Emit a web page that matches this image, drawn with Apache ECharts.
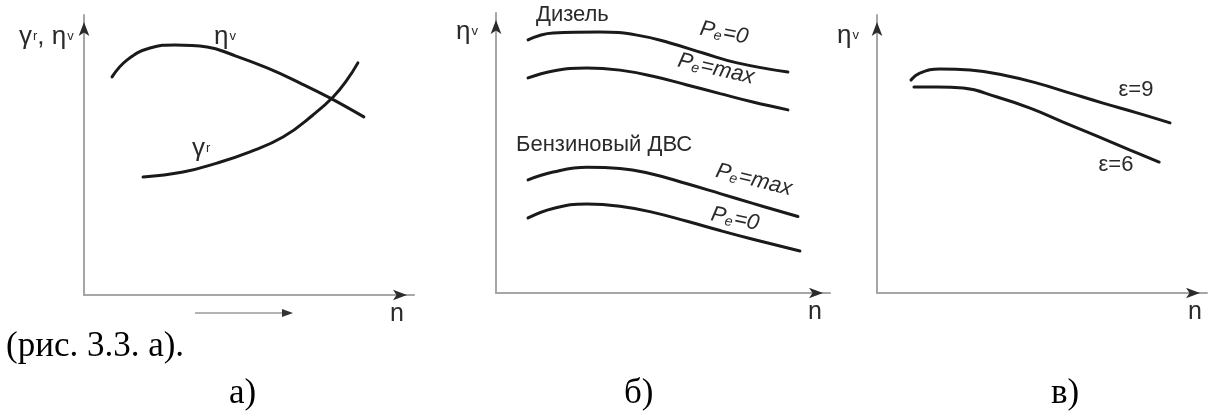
<!DOCTYPE html>
<html>
<head>
<meta charset="utf-8">
<script src="https://cdn.jsdelivr.net/npm/echarts@6/dist/echarts.min.js"></script>
<style>
  html, body { margin: 0; padding: 0; background: #fff; }
  #chart { width: 1209px; height: 414px; }
</style>
</head>
<body>
<div id="chart"></div>
<script>
// а) coefficient of residual gases γr and volumetric efficiency ηv vs speed n
const etaV_n = [8.5, 13.0, 20.0, 27.6, 37.3, 45.2, 55.5, 65.5, 74.5, 84.8];
const etaV   = [77.9, 83.9, 88.2, 89.3, 88.6, 85.7, 81.1, 75.7, 70.4, 63.6];
const gammaR_n = [17.9, 30.0, 40.3, 50.3, 60.3, 69.4, 75.5, 79.7, 83.0];
const gammaR   = [42.1, 43.9, 47.1, 51.1, 56.4, 64.3, 70.7, 76.8, 82.9];

// б) ηv vs n for diesel and petrol engines at Pe = 0 and Pe = max
const dieselPe0_n = [9.6, 17.1, 31.1, 42.2, 52.1, 62.0, 72.2, 87.4];
const dieselPe0   = [90.4, 92.9, 93.2, 92.1, 89.3, 85.7, 82.2, 78.9];
const dieselMax_n = [9.6, 17.1, 27.2, 37.1, 47.0, 57.2, 67.1, 76.9, 87.4];
const dieselMax   = [76.8, 79.3, 80.4, 79.6, 77.4, 74.3, 71.2, 68.2, 65.4];
const petrolMax_n = [9.6, 17.1, 27.2, 37.1, 47.0, 57.2, 67.1, 76.9, 90.4];
const petrolMax   = [40.4, 43.2, 44.9, 44.5, 42.4, 39.0, 35.5, 32.0, 27.3];
const petrolPe0_n = [9.6, 17.1, 27.2, 37.1, 47.0, 57.2, 67.1, 76.9, 91.0];
const petrolPe0   = [26.8, 30.2, 31.8, 31.0, 28.8, 25.6, 22.3, 19.2, 15.0];

// в) ηv vs n for compression ratios ε = 9 and ε = 6
const eps9_n = [10.3, 13.0, 19.1, 28.2, 38.2, 48.5, 58.5, 68.5, 78.8, 88.8];
const eps9   = [76.6, 79.1, 80.6, 80.2, 78.4, 75.5, 71.9, 68.3, 64.8, 61.2];
const eps6_n = [11.2, 18.2, 26.1, 36.4, 46.4, 56.4, 66.7, 76.7, 85.5];
const eps6   = [74.1, 74.1, 73.7, 70.5, 66.5, 61.5, 56.4, 51.4, 47.1];

const SANS = 'Liberation Sans, Arial, sans-serif';
const SERIF = 'Liberation Serif, Times New Roman, serif';
const INK = '#1a1a1a';
const TEXT = '#2a2a2a';

const zip = (xs, ys) => xs.map((x, i) => [x, ys[i]]);

const grids = [
  { left: 84,  top: 15, width: 330, height: 280 },
  { left: 496, top: 13, width: 334, height: 280 },
  { left: 877, top: 15, width: 330, height: 278 }
];

// each grid gets a light axis line plus a dark arrow-only axis on the same side
function axisPair(kind, gridIndex) {
  const base = {
    type: 'value', gridIndex, min: 0, max: 100,
    position: kind === 'x' ? 'bottom' : 'left',
    axisTick: { show: false }, axisLabel: { show: false }, splitLine: { show: false }
  };
  return [
    Object.assign({}, base, {
      axisLine: { show: true, onZero: false, lineStyle: { color: '#a6a6a6', width: 2 } }
    }),
    Object.assign({}, base, {
      axisLine: {
        show: true, onZero: false,
        symbol: ['none', 'arrow'], symbolSize: [8, 14], symbolOffset: [0, -7],
        lineStyle: { color: '#2b2b2b', width: 0 }
      }
    })
  ];
}

const xAxes = [], yAxes = [];
grids.forEach((g, i) => {
  xAxes.push(...axisPair('x', i));
  yAxes.push(...axisPair('y', i));
});

function curve(panel, xs, ys) {
  return {
    type: 'line', xAxisIndex: panel * 2, yAxisIndex: panel * 2,
    data: zip(xs, ys), smooth: 0.45, showSymbol: false, silent: true,
    lineStyle: { color: INK, width: 3, cap: 'round' }
  };
}

// rich-text label helper: x/y is the anchor point, rot in degrees
function label(text, x, y, opts) {
  opts = opts || {};
  const size = opts.size || 22;
  const italic = opts.italic ? 'italic' : 'normal';
  const fam = opts.family || SANS;
  return {
    type: 'text', x, y, rotation: (opts.rot || 0) * Math.PI / 180, silent: true, z: 10,
    style: {
      text,
      fill: opts.fill || TEXT,
      fontSize: size, fontFamily: fam, fontStyle: italic,
      textAlign: opts.align || 'left', textVerticalAlign: 'middle',
      rich: {
        m: { fontSize: size, fontFamily: fam, fontStyle: italic, fill: opts.fill || TEXT },
        g: { fontSize: size + 4, fontFamily: fam, fill: TEXT },
        s: { fontSize: Math.round(size * 0.6), fontFamily: fam, fill: TEXT, verticalAlign: 'middle', padding: [0, 0, 2, 1] },
        e: { fontSize: Math.round(size * 0.62), fontFamily: fam, fontStyle: italic, fill: TEXT, verticalAlign: 'bottom', padding: [0, 1, 0, 0] }
      }
    }
  };
}

const graphics = [
  // panel а
  label('{g|γ}{s|r}{g|, η}{s|v}', 19, 37),
  label('{g|η}{s|v}', 214, 37),
  label('{g|γ}{s|r}', 192, 149),
  label('n', 397, 314, { size: 25, align: 'center' }),
  { type: 'line', silent: true, shape: { x1: 195, y1: 313, x2: 284, y2: 313 },
    style: { stroke: '#9a9a9a', lineWidth: 1.5 } },
  { type: 'polygon', silent: true, shape: { points: [[282, 309], [293, 313], [282, 317]] },
    style: { fill: '#333' } },

  // panel б
  label('{g|η}{s|v}', 456, 32),
  label('Дизель', 536, 15),
  label('Бензиновый ДВС', 516, 145),
  label('{m|P}{e|e}{m|=0}', 724, 33, { italic: true, rot: -11, align: 'center' }),
  label('{m|P}{e|e}{m|=max}', 716, 69, { italic: true, rot: -13, align: 'center' }),
  label('{m|P}{e|e}{m|=max}', 754, 180, { italic: true, rot: -14, align: 'center' }),
  label('{m|P}{e|e}{m|=0}', 735, 219, { italic: true, rot: -12, align: 'center' }),
  label('n', 815, 312, { size: 25, align: 'center' }),

  // panel в
  label('{g|η}{s|v}', 837, 36),
  label('ε=9', 1136, 90, { align: 'center' }),
  label('ε=6', 1116, 165, { align: 'center' }),
  label('n', 1195, 312, { size: 25, align: 'center' }),

  // captions
  label('(рис. 3.3. а).', 6, 347, { size: 35, family: SERIF, fill: '#000' }),
  label('а)', 229, 394, { size: 35, family: SERIF, fill: '#000' }),
  label('б)', 624, 394, { size: 35, family: SERIF, fill: '#000' }),
  label('в)', 1051, 394, { size: 35, family: SERIF, fill: '#000' })
];

const chart = echarts.init(document.getElementById('chart'), null, { renderer: 'canvas' });
chart.setOption({
  animation: false,
  backgroundColor: '#fff',
  grid: grids,
  xAxis: xAxes,
  yAxis: yAxes,
  series: [
    curve(0, etaV_n, etaV),
    curve(0, gammaR_n, gammaR),
    curve(1, dieselPe0_n, dieselPe0),
    curve(1, dieselMax_n, dieselMax),
    curve(1, petrolMax_n, petrolMax),
    curve(1, petrolPe0_n, petrolPe0),
    curve(2, eps9_n, eps9),
    curve(2, eps6_n, eps6)
  ],
  graphic: graphics
});
</script>
</body>
</html>
